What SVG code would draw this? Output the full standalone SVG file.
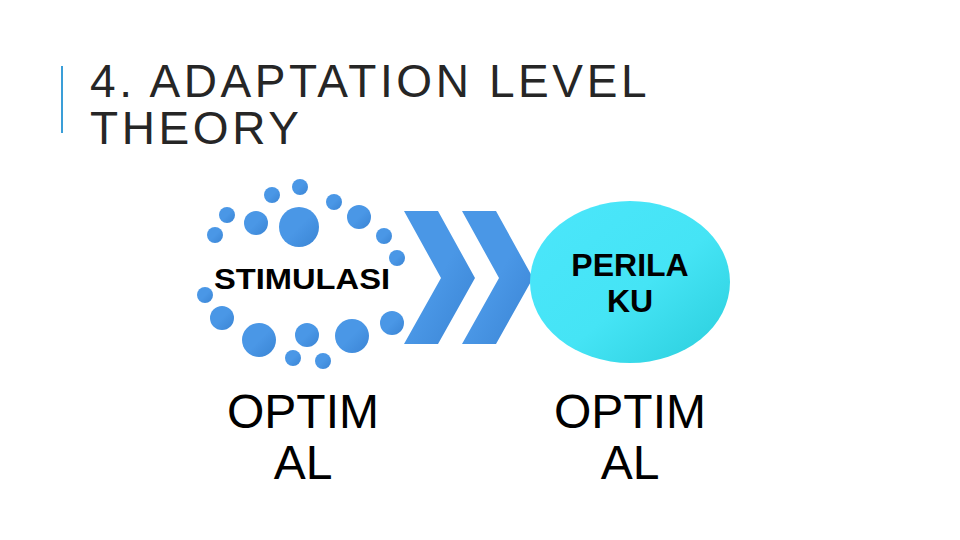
<svg xmlns="http://www.w3.org/2000/svg" width="960" height="540" viewBox="0 0 960 540">
<style>
.d{fill:url(#gb)}
.t{font-family:"Liberation Sans",Arial,sans-serif;fill:#000}
</style>
<defs>
<linearGradient id="gb" x1="0" y1="0" x2="1" y2="1"><stop offset="0.5" stop-color="#4a97e6"/><stop offset="1" stop-color="#3a84d4"/></linearGradient>
<linearGradient id="gc" x1="0" y1="0" x2="1" y2="1"><stop offset="0" stop-color="#4be6fb"/><stop offset="0.55" stop-color="#45e4f5"/><stop offset="1" stop-color="#29cddb"/></linearGradient>
</defs>
<rect width="960" height="540" fill="#fff"/>
<line x1="62" y1="66" x2="62" y2="133" stroke="#3a9ed8" stroke-width="2"/>
<text class="t" x="90" y="97" font-size="46" letter-spacing="3.6" style="fill:#262626">4. ADAPTATION LEVEL</text>
<text class="t" x="90" y="144" font-size="46" letter-spacing="3.6" style="fill:#262626">THEORY</text>
<g id="stimulasi">
<circle class="d" cx="300" cy="187" r="8"/><circle class="d" cx="272" cy="195" r="8"/><circle class="d" cx="334" cy="202" r="8"/>
<circle class="d" cx="227" cy="215" r="8"/><circle class="d" cx="256" cy="223" r="12"/><circle class="d" cx="299" cy="227" r="20"/>
<circle class="d" cx="359" cy="217" r="12"/><circle class="d" cx="215" cy="235" r="8"/><circle class="d" cx="384" cy="236" r="8"/>
<circle class="d" cx="397" cy="258" r="8"/><circle class="d" cx="205" cy="295" r="8"/><circle class="d" cx="222" cy="318" r="12"/>
<circle class="d" cx="259" cy="340" r="17"/><circle class="d" cx="307" cy="335" r="12"/><circle class="d" cx="352" cy="336" r="17"/>
<circle class="d" cx="392" cy="323" r="12"/><circle class="d" cx="293" cy="358" r="8"/><circle class="d" cx="323" cy="361" r="8"/>
<text class="t" x="214" y="289" font-size="30" font-weight="bold" textLength="176" lengthAdjust="spacingAndGlyphs">STIMULASI</text>
</g>
<g id="connectors">
<polygon class="d" points="404,211 438,211 475,278 438,344 404,344 441,278"/>
<polygon class="d" points="462,211 496,211 533,278 496,344 462,344 499,278"/>
</g>
<g id="perilaku">
<ellipse cx="630" cy="282" rx="100" ry="81" fill="url(#gc)"/>
<text class="t" x="630" y="276" font-size="32" font-weight="bold" text-anchor="middle">PERILA</text>
<text class="t" x="630" y="312" font-size="32" font-weight="bold" text-anchor="middle">KU</text>
</g>
<g id="optimal1">
<text class="t" x="303" y="428" font-size="48" text-anchor="middle">OPTIM</text>
<text class="t" x="303" y="479" font-size="48" text-anchor="middle">AL</text>
</g>
<g id="optimal2">
<text class="t" x="630" y="428" font-size="48" text-anchor="middle">OPTIM</text>
<text class="t" x="630" y="479" font-size="48" text-anchor="middle">AL</text>
</g>
</svg>
